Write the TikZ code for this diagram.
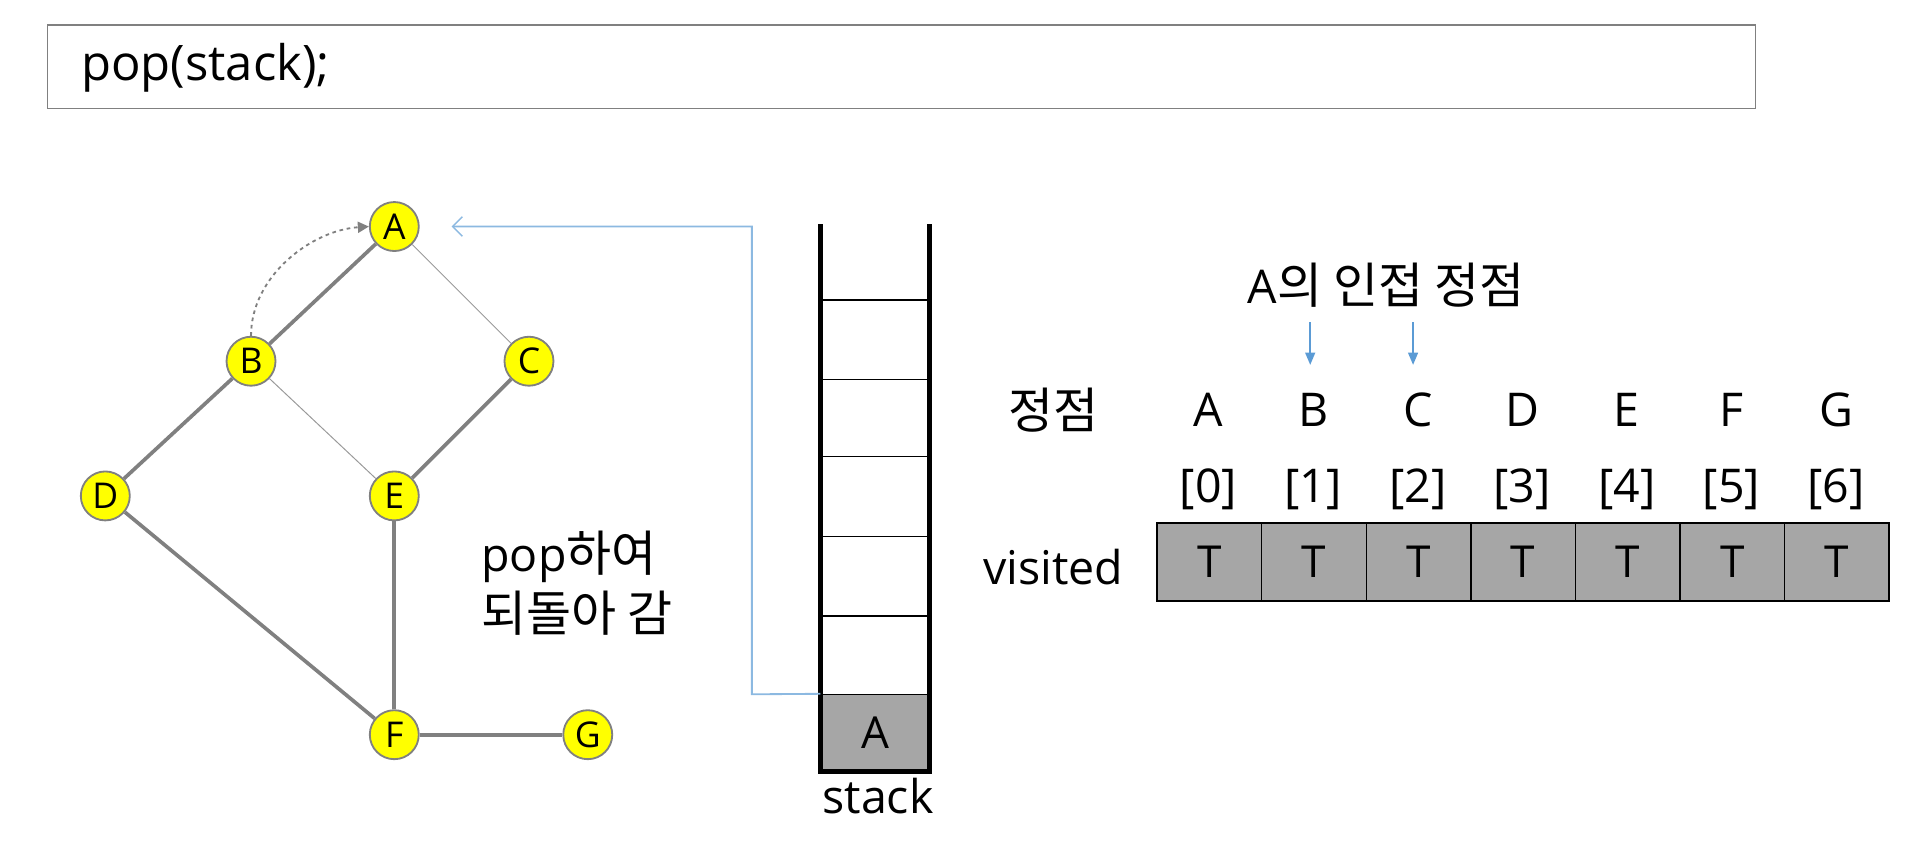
\documentclass[tikz,border=0pt]{standalone}
\usepackage{fontspec}
\setmainfont{Open Sans}
\newfontfamily\kr{Noto Sans CJK KR}
\usetikzlibrary{arrows.meta}
\definecolor{nodeyellow}{RGB}{255,255,0}
\definecolor{edgegray}{RGB}{128,128,128}
\definecolor{cellgray}{RGB}{166,166,166}
\definecolor{lineblue}{RGB}{140,185,225}
\definecolor{arrowblue}{RGB}{91,155,213}
\newcommand{\K}[1]{{\kr\fontsize{40}{44}\selectfont #1}}
\tikzset{
  vtx/.style={circle,draw=edgegray,line width=1.5pt,fill=nodeyellow,minimum size=40pt,inner sep=0pt,font=\fontsize{29}{30}\selectfont},
  thickedge/.style={draw=edgegray,line width=3pt},
  thinedge/.style={draw=edgegray!80,line width=0.8pt},
  lbl/.style={font=\fontsize{38}{42}\selectfont,inner sep=0pt},
  cell/.style={draw=black,line width=1.2pt,fill=cellgray,minimum width=85.4pt,minimum height=64pt,inner sep=0pt,font=\fontsize{36}{38}\selectfont},
}
\begin{document}
\begin{tikzpicture}[x=1pt,y=-1pt]
\useasboundingbox (0,0) rectangle (1568,699);
% top box
\node[draw=gray,line width=1.2pt,minimum width=1395pt,minimum height=68pt,inner sep=0pt,anchor=north west] (code) at (38,20) {};
\node[lbl,anchor=west,font=\fontsize{40}{44}\selectfont] (codetext) at (66,55) {pop(stack);};
% graph
\node[vtx] (A) at (322,185) {A};
\node[vtx] (B) at (205,295) {B};
\node[vtx] (C) at (432,295) {C};
\node[vtx] (D) at (86,405) {D};
\node[vtx] (E) at (322,405) {E};
\node[vtx] (F) at (322,600) {F};
\node[vtx] (G) at (480,600) {G};
\draw[thickedge] (A) -- (B);
\draw[thinedge] (A) -- (C);
\draw[thickedge] (B) -- (D);
\draw[thinedge] (B) -- (E);
\draw[thickedge] (C) -- (E);
\draw[thickedge] (D) -- (F);
\draw[thickedge] (E) -- (F);
\draw[thickedge] (F) -- (G);
\draw[edgegray,line width=1.5pt,dashed,-{Triangle[length=9pt,width=9pt]}] (B.north) .. controls (205,225) and (255,188) .. (A.west);
% text
\node[lbl,anchor=west] (pop1) at (393,455) {pop\K{하여}};
\node[lbl,anchor=west] (pop2) at (393,501) {\K{되돌아 감}};
% stack
\coordinate (stl) at (670,183);
\coordinate (str) at (759,183);
\coordinate (sbl) at (670,630);
\coordinate (sbr) at (759,630);
\node[fill=cellgray,minimum width=89pt,minimum height=63pt,inner sep=0pt,anchor=south west,font=\fontsize{36}{38}\selectfont] (sA) at (670,630) {A};
\foreach \yy in {245,310,373,438,503,567} \draw[line width=1.2pt] (670,\yy) -- (759,\yy);
\draw[line width=3.5pt] (stl) -- (sbl) -- (sbr) -- (str);
\node[lbl,anchor=north] (stacklbl) at (717,635) {stack};
% blue connector
\draw[lineblue,line width=1.5pt,-{Straight Barb[length=8pt,width=16pt,line width=1.2pt]}] (sA.north west) -- (614,567) -- (614,185) -- ([xshift=26pt]A.east);
% adjacency
\node[lbl] (adj) at (1132,233) {A\K{의 인접 정점}};
\coordinate (aB) at (1070,263);
\coordinate (aC) at (1154,263);
\coordinate (aBe) at (1070,298);
\coordinate (aCe) at (1154,298);
% header row
\node[lbl] (hdr) at (860,335) {\K{정점}};
\foreach \l [count=\i from 0] in {A,B,C,D,E,F,G} {
  \node[lbl] (v\l) at (987+85.4*\i,335) {\l};
  \node[lbl] (idx\i) at (987+85.4*\i,400) {[\i]};
  \node[cell] (c\i) at (987.7+85.4*\i,459) {T};
}
\draw[arrowblue,line width=1.5pt,-{Triangle[length=10pt,width=8pt]}] (aB) -- (aBe);
\draw[arrowblue,line width=1.5pt,-{Triangle[length=10pt,width=8pt]}] (aC) -- (aCe);
\node[lbl] (vis) at (860,463) {visited};
\end{tikzpicture}
\end{document}
